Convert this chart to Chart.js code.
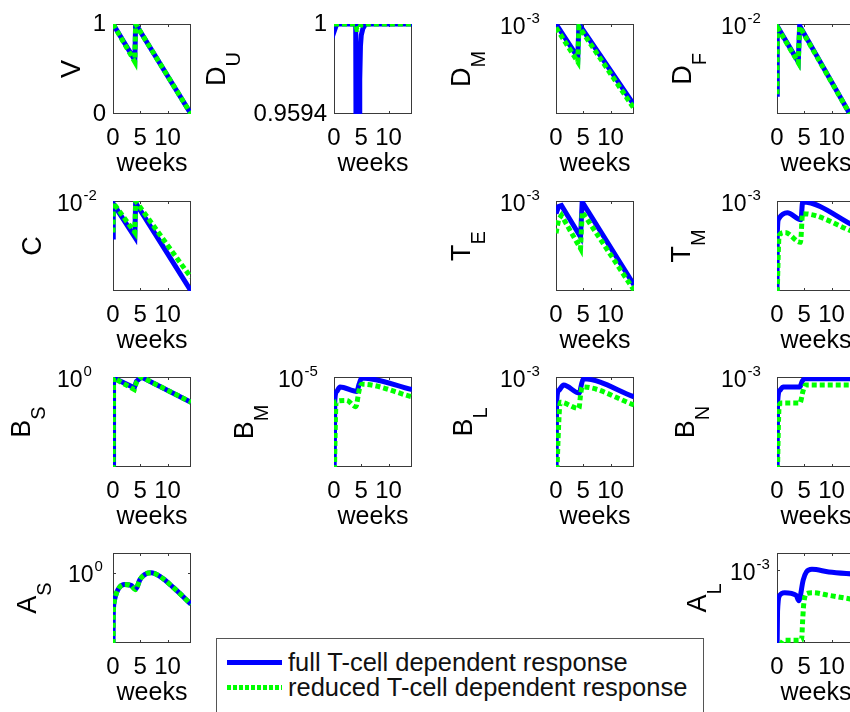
<!DOCTYPE html>
<html>
<head>
<meta charset="utf-8">
<title>full vs reduced T-cell dependent response</title>
<script src="https://cdn.jsdelivr.net/npm/chart.js@4.4.1/dist/chart.umd.min.js"></script>
<style>
  html, body { margin: 0; padding: 0; background: #fff; }
  body { position: relative; width: 850px; height: 712px; overflow: hidden; font-family: "Liberation Sans", Arial, sans-serif; }
  .panel { position: absolute; }
  .panel canvas { display: block; }
  #legend { position: absolute; left: 216px; top: 638px; width: 488px; height: 90px; box-sizing: border-box;
            border: 1px solid #555; background: #fff; font-size: 25.5px; color: #111; }
  #legend .row { position: absolute; left: 10px; height: 28px; line-height: 28px; white-space: nowrap; }
  #legend .sample { position: absolute; left: 0; top: 12px; width: 55px; height: 5px; }
  #legend .label { position: absolute; left: 61px; top: 0; }
  #legend .sample.full { background: #0000ff; }
  #legend .sample.reduced { background: repeating-linear-gradient(to right, #00ff00 0 4px, transparent 4px 6px); }
</style>
</head>
<body>
<div id="legend">
  <div class="row" style="top:9px"><span class="sample full"></span><span class="label">full T-cell dependent response</span></div>
  <div class="row" style="top:34px"><span class="sample reduced"></span><span class="label">reduced T-cell dependent response</span></div>
</div>
<script>
// shared x axis
const weekTicks = [0, 5, 10];
const weekMax = 14.3;

// V
const vWeeks = [0, 4.0, 4.15, 14.3];
const vFull = [1, 0.6, 1, 0];
const vReduced = [1, 0.58, 1, 0];
const vTicks = [0, 1];

// D_U
const duWeeksFull = [0, 0.12, 0.5, 3.98, 4.05, 4.6, 4.72, 4.85, 5.0, 5.3, 5.8, 14.3];
const duFull = [1, 0.9973, 1, 1, 0.94, 0.94, 0.975, 0.99, 0.995, 0.998, 1, 1];
const duWeeksReduced = [0, 3.95, 4.2, 4.6, 5.0, 14.3];
const duReduced = [1, 1, 0.9975, 0.9975, 1, 1];
const duTicks = [0.9594, 1];

// D_M
const dmWeeks = [0, 4.0, 4.2, 14.3];
const dmFull = [1.0e-3, 4.27e-4, 1.0e-3, 1.26e-4];
const dmReduced = [9.12e-4, 3.8e-4, 9.33e-4, 1.15e-4];

// D_F
const dfWeeks = [0, 0.05, 0.2, 3.9, 4.15, 14.3];
const dfFull = [1.66e-3, 7.94e-3, 9.12e-3, 3.8e-3, 9.55e-3, 7.94e-4];
const dfReduced = [1.66e-3, 7.94e-3, 8.91e-3, 3.72e-3, 9.33e-3, 7.94e-4];

// C
const cWeeks = [0, 0.05, 4.0, 4.15, 14.3];
const cFull = [3.98e-3, 9.33e-3, 3.98e-3, 9.55e-3, 1.0e-3];
const cReduced = [4.47e-3, 9.55e-3, 4.47e-3, 1.0e-2, 1.41e-3];

// T_E
const teWeeks = [0, 0.5, 1.0, 4.5, 4.8, 14.3];
const teFull = [7.24e-4, 8.71e-4, 8.91e-4, 3.98e-4, 9.77e-4, 1.17e-4];
const teReduced = [4.37e-4, 6.31e-4, 6.92e-4, 2.95e-4, 7.59e-4, 1.02e-4];

// T_M
const tmWeeksFull = [0, 0.05, 0.3, 1.9, 4.4, 4.7, 14.3];
const tmFull = [7.94e-5, 4.17e-4, 6.31e-4, 7.41e-4, 6.17e-4, 9.77e-4, 5.25e-4];
const tmWeeksReduced = [0, 0.4, 1.5, 4.3, 4.7, 14.3];
const tmReduced = [7.94e-5, 4.17e-4, 4.47e-4, 3.47e-4, 7.24e-4, 4.47e-4];

// B_S
const bsWeeks = [0, 0.1, 3.9, 4.3, 5.2, 14.3];
const bsFull = [0.05, 0.977, 0.759, 0.891, 1.0, 0.525];
const bsReduced = [0.05, 0.977, 0.724, 0.871, 1.0, 0.525];

// B_M
const bmWeeksFull = [0, 0.15, 0.5, 1.1, 4.2, 4.6, 5.1, 14.3];
const bmFull = [5.0e-7, 5.5e-6, 6.92e-6, 7.76e-6, 6.92e-6, 8.32e-6, 9.77e-6, 7.24e-6];
const bmWeeksReduced = [0, 0.4, 2.3, 4.0, 4.6, 5.1, 14.3];
const bmReduced = [5.0e-7, 5.37e-6, 5.5e-6, 4.68e-6, 7.08e-6, 8.32e-6, 6.03e-6];

// B_L
const blWeeksFull = [0, 0.1, 0.5, 1.4, 4.3, 4.6, 5.0, 14.3];
const blFull = [5.0e-5, 5.01e-4, 7.08e-4, 8.13e-4, 6.61e-4, 7.94e-4, 9.55e-4, 6.03e-4];
const blWeeksReduced = [0, 0.8, 4.2, 4.5, 4.8, 14.3];
const blReduced = [5.0e-5, 5.25e-4, 4.47e-4, 6.31e-4, 7.76e-4, 4.9e-4];

// B_N
const bnWeeksFull = [0, 0.1, 0.5, 1.1, 4.2, 4.6, 5.1, 14.3];
const bnFull = [5.0e-5, 5.01e-4, 7.08e-4, 7.76e-4, 7.76e-4, 8.91e-4, 9.55e-4, 9.55e-4];
const bnWeeksReduced = [0, 0.4, 0.8, 4.2, 4.8, 5.2, 14.3];
const bnReduced = [5.0e-5, 4.79e-4, 5.13e-4, 5.13e-4, 7.08e-4, 8.13e-4, 8.13e-4];

// A_S
const asWeeks = [0, 0.05, 0.2, 0.6, 1.2, 2.1, 3.3, 4.1, 4.4, 4.9, 5.8, 7.0, 8.6, 11, 14.3];
const asFull = [0.132, 0.331, 0.468, 0.589, 0.692, 0.741, 0.724, 0.661, 0.692, 0.832, 0.955, 1.0, 0.912, 0.692, 0.447];
const asReduced = [0.132, 0.331, 0.468, 0.589, 0.692, 0.741, 0.724, 0.65, 0.692, 0.832, 0.955, 1.0, 0.912, 0.692, 0.447];

// A_L
const alWeeksFull = [0, 0.1, 0.5, 1.4, 3.5, 4.0, 4.8, 5.4, 6.4, 9.5, 14.3];
const alFull = [9.77e-5, 3.47e-4, 5.25e-4, 5.62e-4, 5.25e-4, 4.57e-4, 7.76e-4, 9.55e-4, 1.02e-3, 9.55e-4, 9.02e-4];
const alWeeksReduced = [0, 1.2, 4.5, 4.7, 4.9, 5.4, 6.5, 9.5, 14.3];
const alReduced = [9.77e-5, 1.66e-4, 1.66e-4, 2.75e-4, 4.17e-4, 5.5e-4, 5.62e-4, 5.25e-4, 4.68e-4];

// layout of the subplot grid (box corners, px)
const colLeft = [113, 334, 556, 777];
const rowTop = [24, 201, 377, 553];
const AXIS_W = 130, BOX_W = 78, BOX_H = 90, PAD_TOP = 26, PAD_RIGHT = 6, X_AXIS_H = 66;
const FONT = '"Liberation Sans", Arial, Helvetica, sans-serif';
const BLUE = '#0000ff';
const GREEN = '#00ff00';

const panels = [
  { row: 0, col: 0, main: 'V', sub: '', labelDx: 43, log: false, yMin: 0, yMax: 1, yTicks: vTicks,
    full: [vWeeks, vFull], reduced: [vWeeks, vReduced] },
  { row: 0, col: 1, main: 'D', sub: 'U', labelDx: 119, log: false, yMin: 0.9594, yMax: 1, yTicks: duTicks,
    full: [duWeeksFull, duFull], reduced: [duWeeksReduced, duReduced] },
  { row: 0, col: 2, main: 'D', sub: 'M', labelDx: 96, log: true, yMin: 1e-4, yMax: 1e-3, decade: -3,
    full: [dmWeeks, dmFull], reduced: [dmWeeks, dmReduced] },
  { row: 0, col: 3, main: 'D', sub: 'F', labelDx: 96, log: true, yMin: 1e-3, yMax: 1e-2, decade: -2,
    full: [dfWeeks, dfFull], reduced: [dfWeeks, dfReduced] },
  { row: 1, col: 0, main: 'C', sub: '', labelDx: 82, log: true, yMin: 1e-3, yMax: 1e-2, decade: -2,
    full: [cWeeks, cFull], reduced: [cWeeks, cReduced] },
  { row: 1, col: 2, main: 'T', sub: 'E', labelDx: 96, log: true, yMin: 1e-4, yMax: 1e-3, decade: -3,
    full: [teWeeks, teFull], reduced: [teWeeks, teReduced] },
  { row: 1, col: 3, main: 'T', sub: 'M', labelDx: 97, log: true, yMin: 1e-4, yMax: 1e-3, decade: -3, smooth: true,
    full: [tmWeeksFull, tmFull], reduced: [tmWeeksReduced, tmReduced] },
  { row: 2, col: 0, main: 'B', sub: 'S', labelDx: 93, log: true, yMin: 0.1, yMax: 1, decade: 0,
    full: [bsWeeks, bsFull], reduced: [bsWeeks, bsReduced] },
  { row: 2, col: 1, main: 'B', sub: 'M', labelDx: 91, log: true, yMin: 1e-6, yMax: 1e-5, decade: -5, smooth: true,
    full: [bmWeeksFull, bmFull], reduced: [bmWeeksReduced, bmReduced] },
  { row: 2, col: 2, main: 'B', sub: 'L', labelDx: 94, log: true, yMin: 1e-4, yMax: 1e-3, decade: -3, smooth: true,
    full: [blWeeksFull, blFull], reduced: [blWeeksReduced, blReduced] },
  { row: 2, col: 3, main: 'B', sub: 'N', labelDx: 93, log: true, yMin: 1e-4, yMax: 1e-3, decade: -3, smooth: true,
    full: [bnWeeksFull, bnFull], reduced: [bnWeeksReduced, bnReduced] },
  { row: 3, col: 0, main: 'A', sub: 'S', labelDx: 87, log: true, yMin: 0.166, yMax: 1.66, decade: 0, tenDx: 45, smooth: true,
    full: [asWeeks, asFull], reduced: [asWeeks, asReduced] },
  { row: 3, col: 3, main: 'A', sub: 'L', labelDx: 81, log: true, yMin: 1.55e-4, yMax: 1.55e-3, decade: -3, tenDx: 47, smooth: true,
    full: [alWeeksFull, alFull], reduced: [alWeeksReduced, alReduced] }
];

// matlab-ish box, inward ticks, rotated y label with subscript, 10^k label
const matlabAxes = {
  id: 'matlabAxes',
  beforeDatasetsDraw(chart, args, o) {
    const { ctx, chartArea: a } = chart;
    const x = chart.scales.x, y = chart.scales.y;
    ctx.save();
    ctx.strokeStyle = '#3a3a3a';
    ctx.lineWidth = 1;
    ctx.strokeRect(a.left + 0.5, a.top + 0.5, a.width - 1, a.height - 1);
    ctx.beginPath();
    weekTicks.forEach(w => {
      if (w === 0) return;
      const px = Math.round(x.getPixelForValue(w)) + 0.5;
      ctx.moveTo(px, a.bottom); ctx.lineTo(px, a.bottom - 3);
      ctx.moveTo(px, a.top); ctx.lineTo(px, a.top + 3);
    });
    if (o.decade !== undefined) {
      const py = Math.round(y.getPixelForValue(Math.pow(10, o.decade))) + 0.5;
      if (py > a.top + 2) {
        ctx.moveTo(a.left, py); ctx.lineTo(a.left + 3, py);
        ctx.moveTo(a.right, py); ctx.lineTo(a.right - 3, py);
      }
    }
    ctx.stroke();
    ctx.restore();
  },
  afterDraw(chart, args, o) {
    const { ctx, chartArea: a } = chart;
    const y = chart.scales.y;
    ctx.save();
    ctx.fillStyle = '#000';
    ctx.textAlign = 'left';
    ctx.textBaseline = 'alphabetic';

    if (o.decade !== undefined) {
      const py = y.getPixelForValue(Math.pow(10, o.decade));
      const left = a.left - (o.tenDx || 56);
      ctx.font = '23px ' + FONT;
      const wBase = ctx.measureText('10').width;
      ctx.fillText('10', left, py + 9.5);
      ctx.font = '15px ' + FONT;
      ctx.fillText(String(o.decade), left + wBase + 1, py - 1.5);
    }

    const mainSize = 27, subSize = 20;
    ctx.translate(a.left - o.labelDx, (a.top + a.bottom) / 2);
    ctx.rotate(-Math.PI / 2);
    ctx.font = mainSize + 'px ' + FONT;
    const wMain = ctx.measureText(o.main).width;
    ctx.font = subSize + 'px ' + FONT;
    const wSub = o.sub ? ctx.measureText(o.sub).width : 0;
    const start = -(wMain + wSub) / 2;
    const base = 0.358 * mainSize;
    ctx.font = mainSize + 'px ' + FONT;
    ctx.fillText(o.main, start, base);
    if (o.sub) {
      ctx.font = subSize + 'px ' + FONT;
      ctx.fillText(o.sub, start + wMain, base + 0.716 * subSize + 1);
    }
    ctx.restore();
  }
};

function toPoints(weeks, values) {
  return weeks.map((w, i) => ({ x: w, y: values[i] }));
}

function makePanel(p) {
  const wrap = document.createElement('div');
  wrap.className = 'panel';
  wrap.style.left = (colLeft[p.col] - AXIS_W) + 'px';
  wrap.style.top = (rowTop[p.row] - PAD_TOP) + 'px';
  const canvas = document.createElement('canvas');
  canvas.width = AXIS_W + BOX_W + PAD_RIGHT;
  canvas.height = PAD_TOP + BOX_H + X_AXIS_H;
  wrap.appendChild(canvas);
  document.body.insertBefore(wrap, document.getElementById('legend'));

  const curve = p.smooth ? { cubicInterpolationMode: 'monotone', tension: 0.4 } : { tension: 0 };

  new Chart(canvas, {
    type: 'line',
    data: {
      datasets: [
        Object.assign({
          label: 'reduced T-cell dependent response',
          data: toPoints(p.reduced[0], p.reduced[1]),
          borderColor: GREEN,
          borderWidth: 5,
          borderDash: [5, 3],
          borderCapStyle: 'butt',
          order: 1
        }, curve),
        Object.assign({
          label: 'full T-cell dependent response',
          data: toPoints(p.full[0], p.full[1]),
          borderColor: BLUE,
          borderWidth: 5,
          order: 2
        }, curve)
      ]
    },
    options: {
      responsive: false,
      animation: false,
      devicePixelRatio: 1,
      events: [],
      layout: { padding: { left: 0, top: PAD_TOP, right: PAD_RIGHT, bottom: 0 } },
      elements: { point: { radius: 0 } },
      plugins: {
        legend: { display: false },
        tooltip: { enabled: false },
        matlabAxes: { main: p.main, sub: p.sub, labelDx: p.labelDx, decade: p.decade, tenDx: p.tenDx }
      },
      scales: {
        x: {
          type: 'linear',
          min: 0,
          max: weekMax,
          afterBuildTicks: s => { s.ticks = weekTicks.map(v => ({ value: v })); },
          afterFit: s => { s.height = X_AXIS_H; },
          grid: { display: false, drawTicks: false },
          border: { display: false },
          ticks: {
            padding: 10,
            color: '#000',
            maxRotation: 0,
            autoSkip: false,
            font: { family: FONT, size: 24 },
            callback: v => String(v)
          },
          title: {
            display: true,
            text: 'weeks',
            color: '#000',
            font: { family: FONT, size: 25 },
            padding: { top: 0, bottom: 1 }
          }
        },
        y: {
          type: p.log ? 'logarithmic' : 'linear',
          min: p.yMin,
          max: p.yMax,
          afterBuildTicks: s => { if (p.yTicks) s.ticks = p.yTicks.map(v => ({ value: v })); },
          afterFit: s => { s.width = AXIS_W; },
          grid: { display: false, drawTicks: false },
          border: { display: false },
          ticks: {
            display: !p.log,
            padding: 7,
            color: '#000',
            font: { family: FONT, size: 24 },
            callback: v => String(v)
          }
        }
      }
    },
    plugins: [matlabAxes]
  });
}

Chart.defaults.font.family = FONT;
panels.forEach(makePanel);
</script>
</body>
</html>
